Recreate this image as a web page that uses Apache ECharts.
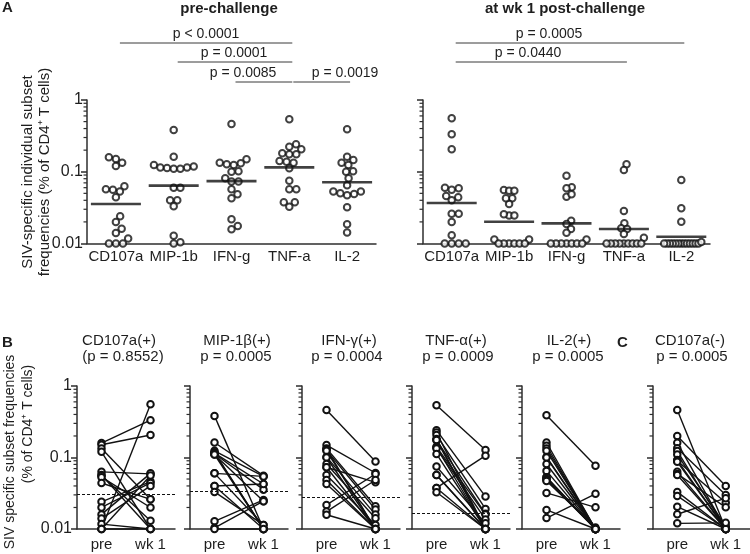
<!DOCTYPE html>
<html><head><meta charset="utf-8">
<script src="https://cdn.jsdelivr.net/npm/echarts@6/dist/echarts.min.js"></script>
<style>html,body{margin:0;padding:0;background:#fff}#c{width:750px;height:554px}</style>
</head><body><div id="c"></div>
<script>
// ---------- data ----------
const markers = ['CD107a', 'MIP-1b', 'IFN-g', 'TNF-a', 'IL-2'];
const yTickValues = [0.01, 0.1, 1];
const minorTickValues = [0.02,0.03,0.04,0.05,0.06,0.07,0.08,0.09,0.2,0.3,0.4,0.5,0.6,0.7,0.8,0.9];

// paired per animal (pre-challenge, wk 1 post-challenge)
const cd107aPre = [0.159,0.151,0.134,0.120,0.063,0.057,0.056,0.053,0.044,0.024,0.020,0.016,0.014,0.0117,0.01,0.01,0.01];
const cd107aWk1 = [0.333,0.206,0.026,0.01,0.059,0.01,0.013,0.020,0.026,0.046,0.044,0.060,0.040,0.01,0.556,0.056,0.01];
const mip1bPre = [0.382,0.162,0.124,0.118,0.115,0.115,0.113,0.110,0.110,0.060,0.060,0.040,0.040,0.033,0.0128,0.0104,0.01];
const mip1bWk1 = [0.01,0.0557,0.0544,0.01,0.0426,0.01,0.0355,0.01,0.0245,0.0544,0.0114,0.0426,0.01,0.0114,0.0255,0.0245,0.01];
const ifngPre = [0.463,0.149,0.134,0.131,0.127,0.124,0.102,0.100,0.081,0.073,0.073,0.057,0.0484,0.0426,0.0217,0.0175,0.0158];
const ifngWk1 = [0.088,0.0607,0.0208,0.01,0.0187,0.01,0.0159,0.01,0.0141,0.0449,0.01,0.0114,0.01,0.01,0.0588,0.0484,0.01];
const tnfaPre = [0.538,0.241,0.223,0.206,0.181,0.175,0.175,0.141,0.138,0.134,0.112,0.075,0.057,0.057,0.0375,0.0375,0.0326];
const tnfaWk1 = [0.127,0.0284,0.01,0.0191,0.01,0.0163,0.01,0.0159,0.01,0.0136,0.01,0.012,0.01,0.01,0.106,0.01,0.01];
const il2Pre = [0.391,0.162,0.146,0.134,0.124,0.102,0.100,0.081,0.065,0.053,0.053,0.050,0.049,0.047,0.032,0.0185,0.0142];
const il2Wk1 = [0.0767,0.01,0.01,0.01,0.01,0.01,0.01,0.01,0.01,0.01,0.01,0.01,0.01,0.0105,0.0201,0.01,0.031];
const cd107aNegPre = [0.462,0.200,0.161,0.135,0.123,0.110,0.092,0.090,0.087,0.063,0.059,0.057,0.033,0.029,0.0205,0.0161,0.0120];
const cd107aNegWk1 = [0.01,0.040,0.01,0.030,0.01,0.011,0.01,0.0233,0.01,0.01,0.0201,0.01,0.01,0.01,0.01,0.027,0.0122];

const meanPre = [0.0355, 0.064, 0.074, 0.115, 0.0713];
const meanWk1 = [0.0367, 0.0201, 0.0191, 0.0159, 0.0124];
const dashLevelB = [0.031, 0.034, 0.028, 0.0164, null, null];

const panelTitlesB = ['CD107a(+)', 'MIP-1β(+)', 'IFN-γ(+)', 'TNF-α(+)', 'IL-2(+)', 'CD107a(-)'];
const panelPvalsB = ['(p = 0.8552)', 'p = 0.0005', 'p = 0.0004', 'p = 0.0009', 'p = 0.0005', 'p = 0.0005'];
const catsB = ['pre', 'wk 1'];
const bracketsPre = [[0,3,'p < 0.0001'],[1,3,'p = 0.0001'],[2,3,'p = 0.0085'],[3,4,'p = 0.0019']];
const bracketsWk1 = [[0,4,'p = 0.0005'],[0,3,'p = 0.0440']];

// ---------- build ----------
const preA = [cd107aPre, mip1bPre, ifngPre, tnfaPre, il2Pre];
const wk1A = [cd107aWk1, mip1bWk1, ifngWk1, tnfaWk1, il2Wk1];
const pairsB = [[cd107aPre,cd107aWk1],[mip1bPre,mip1bWk1],[ifngPre,ifngWk1],[tnfaPre,tnfaWk1],[il2Pre,il2Wk1],[cd107aNegPre,cd107aNegWk1]];

const FONT = '"Liberation Sans", Arial, Helvetica, sans-serif';
const TXT = '#1e1e1e';
const AX = '#2e2e2e';

const gridsA = [{left:87, top:100, width:289, height:143.5}, {left:423, top:100, width:287, height:143.5}];
const leftsB = [77, 190, 302, 412, 522, 653];
const gridB = {top:386, width:98, height:143};

function swarm(vals, pxPerDecade, d, maxHalf) {
  const pts = vals.map((v, i) => ({i, y: Math.log10(v) * pxPerDecade}));
  const order = pts.slice().sort((a, b) => a.y - b.y);
  const placed = [];
  const off = new Array(vals.length).fill(0);
  for (const p of order) {
    let best = null;
    for (let k = 0; k < 1000 && best === null; k++) {
      const cands = k === 0 ? [0] : [k * 0.25, -k * 0.25];
      for (const x of cands) {
        if (placed.every(q => (q.x - x) ** 2 + (q.y - p.y) ** 2 >= d * d)) { best = x; break; }
      }
    }
    placed.push({x: best, y: p.y});
    off[p.i] = best;
  }
  const m = Math.max(...off.map(Math.abs));
  const s = m > maxHalf ? maxHalf / m : 1;
  return off.map(x => x * s);
}

const logFmt = v => { const n = yTickValues.reduce((a, b) => Math.abs(Math.log10(b) - Math.log10(v)) < Math.abs(Math.log10(a) - Math.log10(v)) ? b : a); return String(n); };

const grid = [], xAxis = [], yAxis = [], series = [];

function yLog(gi, showLabel, margin) {
  return {
    type: 'log', logBase: 10, gridIndex: gi, min: 0.01, max: 1, splitNumber: 2,
    axisLine: {show: true, onZero: false, lineStyle: {color: AX, width: 1.5}},
    axisTick: {show: true, length: 6, lineStyle: {color: AX, width: 1.5}},
    splitLine: {show: false},
    axisLabel: {show: showLabel, formatter: logFmt, margin: margin, fontSize: 16, color: TXT, fontFamily: FONT}
  };
}
function minorSeries(xi, yi) {
  return {
    type: 'custom', xAxisIndex: xi, yAxisIndex: yi, silent: true, clip: false, z: 1,
    data: minorTickValues.map(v => [0, v]),
    renderItem: (params, api) => {
      const y = api.coord([api.value(0), api.value(1)])[1];
      const x0 = params.coordSys.x;
      return {type: 'line', shape: {x1: x0 - 3.5, y1: y, x2: x0, y2: y}, style: {stroke: AX, lineWidth: 1.2}};
    }
  };
}

// Panel A
gridsA.forEach((g, gi) => {
  grid.push(g);
  xAxis.push({
    type: 'category', gridIndex: gi, data: markers, boundaryGap: true,
    axisLine: {onZero: false, lineStyle: {color: AX, width: 1.5}},
    axisTick: {alignWithLabel: true, length: 4, lineStyle: {color: AX, width: 1.5}},
    axisLabel: {fontSize: 15, color: TXT, fontFamily: FONT, margin: 6, interval: 0}
  });
  xAxis.push({type: 'value', gridIndex: gi, min: -0.5, max: 4.5, show: false, axisLine: {onZero: false}});
  yAxis.push(yLog(gi, gi === 0, 4));
  const pxDec = g.height / 2;
  const band = g.width / markers.length;
  const sets = gi === 0 ? preA : wk1A;
  const means = gi === 0 ? meanPre : meanWk1;
  sets.forEach((vals, c) => {
    const off = swarm(vals, pxDec, 7, 20);
    series.push({
      type: 'scatter', xAxisIndex: gi * 2 + 1, yAxisIndex: gi, clip: false, silent: true,
      symbol: 'emptyCircle', symbolSize: 6.5,
      itemStyle: {color: '#111', borderWidth: 2.1},
      data: vals.map((v, k) => [c + off[k] / band, v]), z: 3
    });
  });
  series.push({
    type: 'scatter', xAxisIndex: gi * 2 + 1, yAxisIndex: gi, clip: false, silent: true,
    symbol: 'rect', symbolSize: [50, 2.6], itemStyle: {color: '#111'},
    data: means.map((m, c) => [c, m]), z: 4
  });
  series.push(minorSeries(gi * 2, gi));
});

// Panel B / C
leftsB.forEach((lft, p) => {
  const gi = 2 + p;
  grid.push({left: lft, top: gridB.top, width: gridB.width, height: gridB.height});
  xAxis.push({
    type: 'category', gridIndex: gi, data: catsB, boundaryGap: true,
    axisLine: {onZero: false, lineStyle: {color: AX, width: 1.5}},
    axisTick: {alignWithLabel: true, length: 4, lineStyle: {color: AX, width: 1.5}},
    axisLabel: {fontSize: 15, color: TXT, fontFamily: FONT, margin: 8, interval: 0}
  });
  yAxis.push(yLog(gi, p === 0, 5));
  const [pre, wk1] = pairsB[p];
  pre.forEach((v, k) => {
    const s = {
      type: 'line', xAxisIndex: 4 + p, yAxisIndex: gi, clip: false, silent: true,
      data: [v, wk1[k]], symbol: 'emptyCircle', symbolSize: 6.5, showAllSymbol: true,
      lineStyle: {color: '#111', width: 1.4},
      itemStyle: {color: '#111', borderWidth: 2.1}, z: 3
    };
    if (k === 0 && dashLevelB[p] !== null) {
      s.markLine = {
        silent: true, symbol: 'none', label: {show: false}, animation: false, precision: 6,
        lineStyle: {type: [3, 2], color: '#111', width: 1},
        data: [{yAxis: dashLevelB[p]}]
      };
    }
    series.push(s);
  });
  series.push(minorSeries(4 + p, gi));
});

const chart = echarts.init(document.getElementById('c'), null, {renderer: 'canvas'});
chart.setOption({animation: false, backgroundColor: '#fff', grid, xAxis, yAxis, series});

// ---------- annotations ----------
const T = (text, x, y, size, opts = {}) => Object.assign({
  type: 'text', x, y, rotation: opts.rot || 0, silent: true,
  style: {text, x: 0, y: 0, fill: TXT, fontSize: size, fontFamily: FONT, fontWeight: opts.bold ? 'bold' : 'normal',
    align: opts.align || 'center', verticalAlign: 'middle', textAlign: opts.align || 'center', textVerticalAlign: 'middle'}
});
const L = (x1, y1, x2, y2) => ({type: 'line', silent: true, shape: {x1, y1, x2, y2}, style: {stroke: '#3a3a3a', lineWidth: 1}});

const g = [];
g.push(T('A', 2, 8, 15, {bold: true, align: 'left'}));
g.push(T('B', 2, 343, 15, {bold: true, align: 'left'}));
g.push(T('C', 617, 343, 15, {bold: true, align: 'left'}));
g.push(T('pre-challenge', 229, 9, 15, {bold: true}));
g.push(T('at wk 1 post-challenge', 565, 9, 15, {bold: true}));
g.push(T('SIV-specific individual subset', 28, 172, 15, {rot: Math.PI / 2}));
g.push(T('frequencies (% of CD4⁺ T cells)', 45, 172, 15, {rot: Math.PI / 2}));
g.push(T('SIV specific subset frequencies', 10, 452, 14, {rot: Math.PI / 2}));
g.push(T('(% of CD4⁺ T cells)', 28, 424, 14, {rot: Math.PI / 2}));

const rowY = [[43, 34], [62, 53], [82, 73]];
function brackets(list, xi, textCenters, rows) {
  list.forEach((b, i) => {
    const xa = chart.convertToPixel({xAxisIndex: xi}, markers[b[0]]);
    const xb = chart.convertToPixel({xAxisIndex: xi}, markers[b[1]]);
    const r = rows[i];
    g.push(L(xa + 4, r[0], xb + 3, r[0]));
    g.push(T(b[2], textCenters[i], r[1], 14));
  });
}
brackets(bracketsPre, 0, [206, 234, 243, 345], [rowY[0], rowY[1], rowY[2], rowY[2]]);
brackets(bracketsWk1, 2, [549, 528], [rowY[0], rowY[1]]);

const titleCx = [119, 237, 349, 456, 569, 690];
const pvalCx = [123, 236, 347, 458, 568, 692];
panelTitlesB.forEach((t, p) => {
  g.push(T(t, titleCx[p], 341, 15));
  g.push(T(panelPvalsB[p], pvalCx[p], 357, 15));
});
chart.setOption({graphic: {elements: g}});
</script></body></html>
